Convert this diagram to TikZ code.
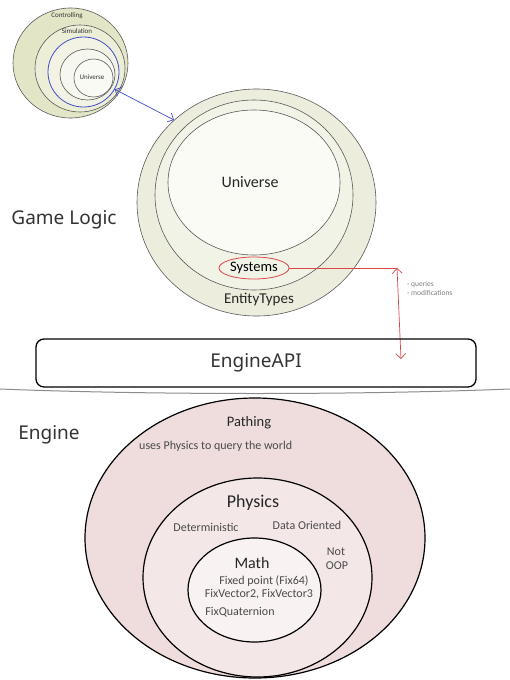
\documentclass[tikz,border=0pt]{standalone}
\usepackage{fontspec}
\setmainfont{Carlito}
\newfontfamily\hand{Noto Sans}
\usetikzlibrary{shapes.geometric,arrows.meta}
\definecolor{linegray}{HTML}{5A5A5A}
\definecolor{olA}{HTML}{E3E6C6}
\definecolor{olB}{HTML}{ECEED8}
\definecolor{olC}{HTML}{F2F3E4}
\definecolor{olD}{HTML}{F6F7EE}
\definecolor{olE}{HTML}{FAFAF4}
\definecolor{bgA}{HTML}{ECEDDD}
\definecolor{bgB}{HTML}{F2F3E7}
\definecolor{bgC}{HTML}{FBFBF6}
\definecolor{pkA}{HTML}{EFDDDD}
\definecolor{pkB}{HTML}{F4E7E7}
\definecolor{pkC}{HTML}{F9F2F2}
\definecolor{bluel}{HTML}{4050C8}
\definecolor{redl}{HTML}{D84848}
\definecolor{txt}{HTML}{4A4A4A}
\begin{document}
\begin{tikzpicture}[x=1pt,y=-1pt,
  olv/.style={ellipse, draw=linegray, line width=0.6pt, inner sep=0pt},
  eng/.style={ellipse, draw=black, line width=1.2pt, inner sep=0pt},
  lbl/.style={inner sep=0pt, text=black!85},
  small/.style={inner sep=0pt, text=txt, font=\fontsize{12}{13}\selectfont},
  tiny/.style={inner sep=0pt, text=black!80, font=\fontsize{7}{8}\selectfont},
  handtxt/.style={inner sep=0pt, text=black!80, font=\hand\fontsize{19}{21}\selectfont},
  barb/.style={{Straight Barb[length=5pt,width=10pt]}-{Straight Barb[length=5pt,width=10pt]}}]
\useasboundingbox[fill=white] (0,0) rectangle (510,680);

% small top-left circles
\node[olv, fill=olA, minimum width=115pt, minimum height=110pt] (ctrl) at (70.5,63) {};
\node[olv, fill=olB, minimum width=90pt, minimum height=87pt] (sim) at (80,68.5) {};
\node[olv, draw=bluel, line width=0.8pt, fill=olC, minimum width=71pt, minimum height=70pt] (bluec) at (83.5,72) {};
\node[olv, fill=olD, minimum width=55pt, minimum height=51pt] (midc) at (87.5,74.5) {};
\node[olv, fill=olE, minimum width=39pt, minimum height=38pt] (unis) at (93.5,78) {};
\node[tiny] (lctrl) at (67,16) {Controlling};
\node[tiny] (lsim) at (77,31) {Simulation};
\node[tiny] (luni) at (92,77) {Universe};

% big circles
\node[olv, fill=bgA, minimum width=239pt, minimum height=227pt] (ent) at (256.5,202.5) {};
\node[olv, fill=bgB, minimum width=198pt, minimum height=190pt] (sysc) at (254,195) {};
\node[olv, fill=bgC, minimum width=172pt, minimum height=145pt] (unib) at (254,182.5) {};
\node[lbl, font=\fontsize{16}{18}\selectfont] (lunib) at (250,182) {Universe};
\node[ellipse, draw=redl, line width=0.8pt, inner sep=0pt, minimum width=70pt, minimum height=22pt, font=\fontsize{14.5}{16}\selectfont] (sys) at (254,268) {Systems};
\node[lbl, font=\fontsize{15}{17}\selectfont] (lent) at (259,300) {EntityTypes};

% blue connector
\draw[barb, draw=bluel, line width=0.7pt] (bluec.-29) -- (ent.135);

% red connector
\coordinate (rc) at (397,268);
\coordinate (rd) at (401,359);
\draw[draw=redl, line width=0.7pt] (sys.east) -- (rc);
\draw[barb, draw=redl, line width=0.7pt] (rc) -- (rd);
\node[inner sep=0pt, anchor=west, text=black!50, font=\fontsize{7.5}{9}\selectfont, align=left] (qm) at (407,288) {- queries\\- modifications};

% Game logic label
\node[handtxt] (gl) at (64,220) {Game Logic};

% EngineAPI
\node[draw=black, line width=1.3pt, rounded corners=8pt, minimum width=440pt, minimum height=48pt, inner sep=0pt, font=\hand\fontsize{19}{21}\selectfont, text=black!80] (api) at (256,363) {EngineAPI};

% separator
\draw[black!45, line width=1pt] (0,389) .. controls (150,395) and (360,395) .. (510,389);

\node[handtxt] (eng) at (49,435) {Engine};

% engine ellipses
\node[eng, fill=pkA, minimum width=340pt, minimum height=280pt] (path) at (255,538) {};
\node[eng, fill=pkB, minimum width=229pt, minimum height=199pt] (phys) at (257.5,577.5) {};
\node[eng, fill=pkC, minimum width=133pt, minimum height=104pt] (math) at (254.5,590) {};

\node[lbl, font=\fontsize{14.5}{16}\selectfont] (lpath) at (249,423) {Pathing};
\node[small, anchor=west] (luse) at (139,446) {uses Physics to query the world};
\node[lbl, font=\fontsize{18}{20}\selectfont] (lphys) at (253,503) {Physics};
\node[small] (ldet) at (206,527) {Deterministic};
\node[small] (ldata) at (307,525) {Data Oriented};
\node[small] (lnot) at (336,552) {Not};
\node[small] (loop) at (337,566) {OOP};
\node[lbl, font=\fontsize{16}{18}\selectfont] (lmath) at (252,563) {Math};
\node[small] (lfix) at (264,581) {Fixed point (Fix64)};
\node[small] (lvec) at (259,594) {FixVector2, FixVector3};
\node[small] (lq) at (240,612) {FixQuaternion};
\end{tikzpicture}
\end{document}
